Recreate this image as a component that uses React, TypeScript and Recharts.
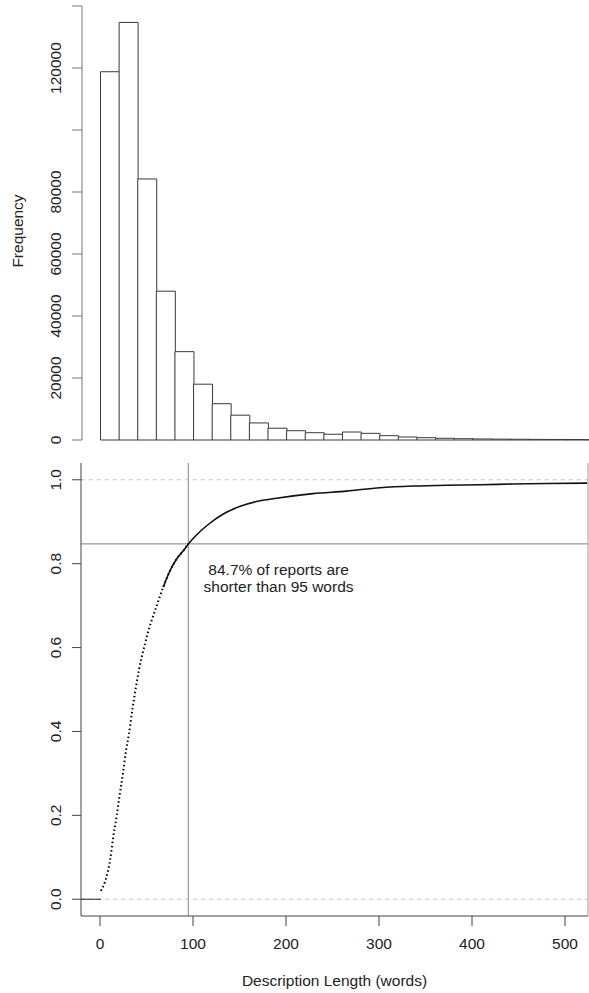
import { BarChart, Bar, XAxis, YAxis, ComposedChart, Line, ReferenceLine, ReferenceDot } from 'recharts';

// histogram bins (20 words each) and their counts
const binStarts = [0, 20, 40, 60, 80, 100, 120, 140, 160, 180, 200, 220, 240, 260, 280, 300, 320, 340, 360, 380, 400, 420, 440, 460, 480, 500, 520];
const binCounts = [118800, 134700, 84200, 48000, 28500, 18000, 11700, 8000, 5500, 3800, 3000, 2350, 1850, 2580, 2150, 1400, 970, 750, 550, 420, 330, 280, 240, 200, 170, 150, 130];
const freqTicks = [0, 20000, 40000, 60000, 80000, 100000, 120000, 140000];
const freqTickLabels = ['0', '20000', '40000', '60000', '80000', '', '120000', ''];

const cdfWords = [1, 2, 4, 7, 11, 14, 18, 21, 25, 28, 31, 35, 39, 42, 45, 48, 51, 55, 61, 68, 75, 82, 90, 95, 104, 115, 133, 150, 168, 190, 229, 265, 301, 337, 373, 409, 444, 480, 524];
const cdfShares = [0.02, 0.025, 0.033, 0.054, 0.095, 0.145, 0.2, 0.247, 0.305, 0.355, 0.392, 0.455, 0.51, 0.548, 0.579, 0.605, 0.632, 0.661, 0.7, 0.744, 0.782, 0.81, 0.832, 0.847, 0.869, 0.891, 0.919, 0.936, 0.948, 0.956, 0.967, 0.973, 0.981, 0.985, 0.987, 0.988, 0.99, 0.991, 0.992];
const dottedUntil = 95; // points drawn as separate dots up to here
const solidFrom = 68; // dense enough to look like a solid line from here
const tailStart = -20.43;

const shareTicks = [0, 0.2, 0.4, 0.6, 0.8, 1];
const shareTickLabels = ['0.0', '0.2', '0.4', '0.6', '0.8', '1.0'];
const lengthTicks = [0, 100, 200, 300, 400, 500];

const cutoffWords = 95;
const cutoffShare = 0.847;
const noteLines = ['84.7% of reports are', 'shorter than 95 words'];

const font = '"Liberation Sans", Arial, Helvetica, sans-serif';
const fs = 15.5;
const ink = '#222';

const histData = binStarts.map((b, i) => ({ bin: `${b}-${b + 20}`, count: binCounts[i] }));

const cdfData: any[] = [{ x: tailStart, tail: 0 }];
cdfWords.forEach((w, i) => {
  const row: any = { x: w };
  if (i === 0) row.tail = 0;
  if (w <= dottedUntil) row.steep = cdfShares[i];
  if (w >= solidFrom) row.flat = cdfShares[i];
  cdfData.push(row);
});

function rotTick(labelFor: (v: number) => string) {
  return (props: any) => {
    const { y, payload } = props;
    return (
      <text x={61} y={y} transform={`rotate(-90 61 ${y})`} textAnchor="middle" fontSize={fs} fill={ink} fontFamily={font}>
        {labelFor(payload.value)}
      </text>
    );
  };
}

export default function App() {
  return (
    <div style={{ position: 'absolute', left: 0, top: 0, width: 589, height: 993, overflow: 'hidden', background: '#fff', fontFamily: font }}>
      <div style={{ position: 'absolute', left: 0, top: 0 }}>
        <BarChart width={603} height={450} data={histData} margin={{ top: 6, right: 0, bottom: 10, left: 0 }} barCategoryGap={0}>
          <XAxis dataKey="bin" hide padding={{ left: 18.5, right: 0 }} />
          <YAxis
            width={82}
            domain={[0, 140000]}
            ticks={freqTicks}
            interval={0}
            tickSize={10}
            axisLine={{ stroke: '#777' }}
            tickLine={{ stroke: '#777' }}
            tick={rotTick((v) => freqTickLabels[freqTicks.indexOf(v)] ?? '')}
            label={() => (
              <text x={23} y={231} transform="rotate(-90 23 231)" textAnchor="middle" fontSize={fs} fill={ink} fontFamily={font}>
                Frequency
              </text>
            )}
          />
          <Bar dataKey="count" fill="#fff" stroke="#3a3a3a" strokeWidth={1} isAnimationActive={false} />
        </BarChart>
      </div>
      <div style={{ position: 'absolute', left: 0, top: 450 }}>
        <ComposedChart width={589} height={543} data={cdfData} margin={{ top: 13, right: 0, bottom: 0, left: 0 }}>
          <XAxis
            xAxisId="bottom"
            dataKey="x"
            type="number"
            domain={[tailStart, 524.7]}
            allowDataOverflow
            ticks={lengthTicks}
            interval={0}
            height={77}
            tickSize={10}
            axisLine={{ stroke: '#444' }}
            tickLine={{ stroke: '#444' }}
            tick={(p: any) => (
              <text x={p.x} y={499} textAnchor="middle" fontSize={fs} fill={ink} fontFamily={font}>
                {p.payload.value}
              </text>
            )}
            label={(p: any) => {
              const vb = p.viewBox || { x: 81, width: 507 };
              return (
                <text x={vb.x + vb.width / 2} y={536} textAnchor="middle" fontSize={fs} fill={ink} fontFamily={font}>
                  Description Length (words)
                </text>
              );
            }}
          />
          <XAxis xAxisId="top" orientation="top" dataKey="x" type="number" domain={[tailStart, 524.7]} allowDataOverflow height={0} tick={false} tickLine={false} axisLine={{ stroke: '#999' }} />
          <YAxis
            yAxisId="left"
            width={81}
            domain={[-0.04, 1.04]}
            allowDataOverflow
            ticks={shareTicks}
            interval={0}
            tickSize={9}
            axisLine={{ stroke: '#444' }}
            tickLine={{ stroke: '#444' }}
            tick={rotTick((v) => shareTickLabels[shareTicks.indexOf(v)] ?? '')}
          />
          <YAxis yAxisId="right" orientation="right" width={1} domain={[-0.04, 1.04]} allowDataOverflow tick={false} tickLine={false} axisLine={{ stroke: '#999' }} />
          <ReferenceLine xAxisId="bottom" yAxisId="left" y={0} stroke="#c4c4c4" strokeDasharray="4 4" />
          <ReferenceLine xAxisId="bottom" yAxisId="left" y={1} stroke="#c4c4c4" strokeDasharray="4 4" />
          <ReferenceLine xAxisId="bottom" yAxisId="left" x={cutoffWords} stroke="#999" strokeWidth={1.2} />
          <ReferenceLine xAxisId="bottom" yAxisId="left" y={cutoffShare} stroke="#999" strokeWidth={1.2} />
          <Line xAxisId="bottom" yAxisId="left" dataKey="tail" stroke="#222" strokeWidth={1} dot={false} isAnimationActive={false} connectNulls={false} />
          <Line xAxisId="bottom" yAxisId="left" type="monotone" dataKey="steep" stroke="#000" strokeWidth={2} strokeDasharray="1.5 2.6" dot={false} isAnimationActive={false} connectNulls={false} />
          <Line xAxisId="bottom" yAxisId="left" type="monotone" dataKey="flat" stroke="#111" strokeWidth={1.6} dot={false} isAnimationActive={false} connectNulls={false} />
          <ReferenceDot
            xAxisId="bottom"
            yAxisId="left"
            x={192}
            y={0.773}
            r={1}
            fill="none"
            stroke="none"
            label={(p: any) => {
              const vb = p.viewBox || { x: 0, y: 0 };
              const cx = vb.x + (vb.width || 0) / 2;
              const cy = vb.y + (vb.height || 0) / 2;
              return (
                <g>
                  <text x={cx} y={cy} textAnchor="middle" fontSize={fs} fill={ink} fontFamily={font}>{noteLines[0]}</text>
                  <text x={cx} y={cy + 17.3} textAnchor="middle" fontSize={fs} fill={ink} fontFamily={font}>{noteLines[1]}</text>
                </g>
              );
            }}
          />
        </ComposedChart>
      </div>
    </div>
  );
}
